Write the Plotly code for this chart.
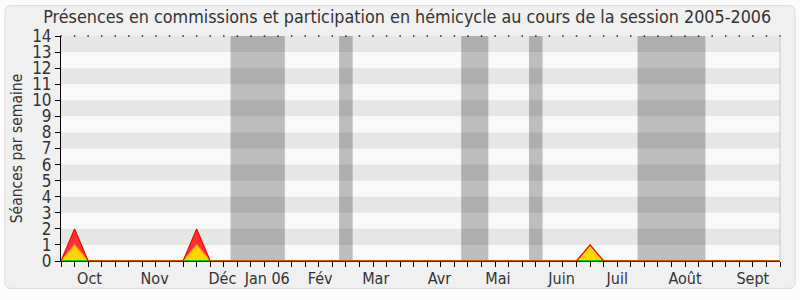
import plotly.graph_objects as go

# Weekly series for the 2005-2006 session (week index 0..53)
weeks = list(range(54))
total_seances = [0] * 54          # red: all sittings
hemicycle = [0] * 54              # yellow: hemicycle participation
commissions = [0] * 54            # green: committee attendance
for w, t, h in [(1, 2, 1), (10, 2, 1), (39, 1, 1)]:
    total_seances[w] = t
    hemicycle[w] = h

# Month labels and their positions on the week axis
month_labels = ["Oct", "Nov", "Déc", "Jan 06", "Fév", "Mar", "Avr", "Mai",
                "Juin", "Juil", "Août", "Sept"]
month_pos = [2.1, 6.9, 11.9, 15.2, 19.1, 23.2, 27.9, 32.2, 36.9, 41.0, 46.0, 51.0]

# Parliamentary recess periods (week spans)
recess = [(12.5, 16.5), (20.5, 21.5), (29.5, 31.5), (34.5, 35.5), (42.5, 47.5)]

W, H = 800, 300
L, R, T, B = 61, 20, 36, 34
PW, PH = W - L - R, H - T - B
FONT = "DejaVu Sans Condensed, DejaVu Sans, sans-serif"


def px(x):
    return (x - L) / PW


def py(y):
    return (H - B - y) / PH


fig = go.Figure()

# fills first, then outlines, so the red outline sits on top
fig.add_trace(go.Scatter(x=weeks, y=total_seances, mode="lines", fill="tozeroy",
                         fillcolor="rgb(255,48,48)", line=dict(width=0),
                         hoverinfo="skip", showlegend=False))
fig.add_trace(go.Scatter(x=weeks, y=hemicycle, mode="lines", fill="tozeroy",
                         fillcolor="rgb(255,214,0)", line=dict(width=0),
                         hoverinfo="skip", showlegend=False))
fig.add_trace(go.Scatter(x=weeks, y=commissions, mode="lines",
                         line=dict(color="rgb(0,200,0)", width=2),
                         hoverinfo="skip", showlegend=False))
fig.add_trace(go.Scatter(x=weeks, y=hemicycle, mode="lines",
                         line=dict(color="rgb(255,170,0)", width=1.2),
                         hoverinfo="skip", showlegend=False))
fig.add_trace(go.Scatter(x=weeks, y=total_seances, mode="lines",
                         line=dict(color="rgb(255,0,0)", width=1.2),
                         hoverinfo="skip", showlegend=False))
# dotted marks along the top edge, one per week
fig.add_trace(go.Scatter(x=weeks, y=[14] * len(weeks), mode="markers",
                         marker=dict(color="#222222", size=1.5, symbol="square",
                                     line=dict(width=0)),
                         cliponaxis=False, hoverinfo="skip", showlegend=False))

shapes = []
# rounded panel behind everything
x0, x1, y0, y1, rr = 5, 795, 5, 294, 6
path = (f"M {px(x0 + rr)},{py(y0)} L {px(x1 - rr)},{py(y0)} "
        f"Q {px(x1)},{py(y0)} {px(x1)},{py(y0 + rr)} L {px(x1)},{py(y1 - rr)} "
        f"Q {px(x1)},{py(y1)} {px(x1 - rr)},{py(y1)} L {px(x0 + rr)},{py(y1)} "
        f"Q {px(x0)},{py(y1)} {px(x0)},{py(y1 - rr)} L {px(x0)},{py(y0 + rr)} "
        f"Q {px(x0)},{py(y0)} {px(x0 + rr)},{py(y0)} Z")
shapes.append(dict(type="path", path=path, xref="paper", yref="paper",
                   fillcolor="#f0f0f0", line=dict(color="#d9d9d9", width=1),
                   layer="below"))
# plot background
shapes.append(dict(type="rect", xref="paper", yref="paper", x0=0, x1=1, y0=0, y1=1,
                   fillcolor="#f9f9f9", line=dict(width=0), layer="below"))
# recess bands
for a, b in recess:
    shapes.append(dict(type="rect", xref="x", yref="paper", x0=a, x1=b, y0=0, y1=1,
                       fillcolor="#bdbdbd", line=dict(width=0), layer="below"))
# alternating horizontal stripes
for k in range(1, 15, 2):
    shapes.append(dict(type="rect", xref="paper", yref="y", x0=0, x1=1, y0=k, y1=k + 1,
                       fillcolor="rgba(0,0,0,0.075)", line=dict(width=0), layer="below"))
# right border
shapes.append(dict(type="line", xref="paper", yref="paper", x0=1, x1=1, y0=0, y1=1,
                   line=dict(color="#c8c8c8", width=1)))

fig.update_layout(
    width=W, height=H,
    margin=dict(l=L, r=R, t=T, b=B),
    paper_bgcolor="#fbfbfb",
    plot_bgcolor="rgba(0,0,0,0)",
    font=dict(family=FONT, color="#333333", size=16),
    title=dict(text="Présences en commissions et participation en hémicycle au cours de la session 2005-2006",
               x=0.509, xanchor="center", y=1 - 17 / H, yanchor="middle",
               font=dict(size=17.8, color="#333333")),
    shapes=shapes,
    xaxis=dict(range=[0, 53], showgrid=False, zeroline=False,
               showline=True, linecolor="#6b1a00", linewidth=1,
               tickmode="array", tickvals=month_pos, ticktext=month_labels,
               ticks="", ticklabelstandoff=3, tickfont=dict(size=16),
               minor=dict(tickmode="array", tickvals=weeks, ticks="outside",
                          ticklen=5, tickcolor="black", tickwidth=1, showgrid=False),
               fixedrange=True),
    yaxis=dict(range=[0, 14], showgrid=False, zeroline=False,
               showline=True, linecolor="black", linewidth=1,
               tickmode="linear", tick0=0, dtick=1, tickfont=dict(size=17),
               ticks="outside", ticklen=5, tickcolor="black",
               title=dict(text="Séances par semaine", font=dict(size=15.5), standoff=5),
               fixedrange=True),
)

fig.write_html("out.html")
